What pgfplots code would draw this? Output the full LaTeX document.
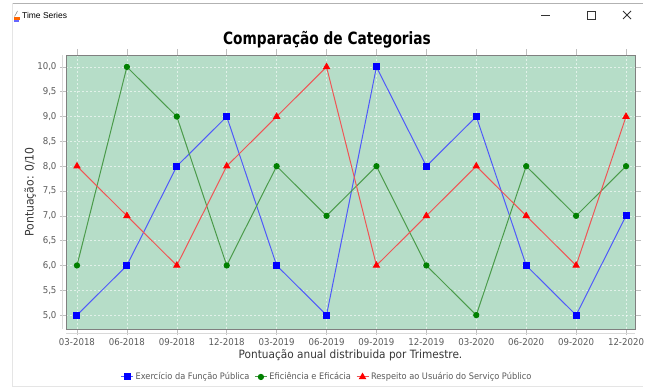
\documentclass[border=0pt]{standalone}
\usepackage{fontspec}
\setmainfont{DejaVu Sans}[FakeStretch=0.92]
\newfontfamily\titlefont[FakeStretch=0.81]{DejaVu Sans}
\newfontfamily\winfont{Liberation Sans}
\usepackage{pgfplots}
\pgfplotsset{compat=1.18}
\definecolor{bggreen}{RGB}{182,221,200}
\definecolor{sblue}{RGB}{0,0,255}
\definecolor{sgreen}{RGB}{0,128,0}
\definecolor{sred}{RGB}{255,0,0}
\definecolor{lblue}{RGB}{80,90,250}
\definecolor{lgreen}{RGB}{75,155,75}
\definecolor{lred}{RGB}{240,85,85}
\definecolor{ticktext}{RGB}{90,90,90}
\definecolor{labeltext}{RGB}{55,55,55}
\begin{document}
\begin{tikzpicture}[x=1bp,y=1bp]
\path (0,0) rectangle (663,390);
% window frame
\draw[gray!60, line width=0.8bp] (12,387) -- (643,387);
\draw[gray!20, line width=0.8bp] (12,387) -- (12,4) -- (643,4);
% window title bar
\fill[orange!80!red] (13.5,370) rectangle (19.5,373);
\fill[blue!60] (14,368) rectangle (19,369.5);
\draw[gray, line width=0.5bp] (14.5,373.5) .. controls (15.5,377) and (17,376) .. (17.5,379);
\node[anchor=west, inner sep=0pt, font=\winfont\fontsize{8.5}{9}\selectfont] at (22,375) {Time Series};
\draw[black!80, line width=0.7bp] (541,375) -- (550,375);
\draw[black!80, line width=0.8bp] (587,371) rectangle (595,379);
\draw[black!80, line width=0.8bp] (623,371) -- (631,379) (623,379) -- (631,371);
% chart title
\node[font=\titlefont\bfseries\fontsize{17}{18}\selectfont] at (327,350.5) {Comparação de Categorias};
\begin{axis}[
  at={(66bp,61bp)}, anchor=south west,
  scale only axis, width=569bp, height=274bp,
  xmin=-0.22, xmax=11.18, ymin=4.72, ymax=10.24,
  xtick={0,...,11},
  xticklabels={03-2018,06-2018,09-2018,12-2018,03-2019,06-2019,09-2019,12-2019,03-2020,06-2020,09-2020,12-2020},
  ytick={5,5.5,...,10},
  yticklabel style={/pgf/number format/.cd, fixed, fixed zerofill, precision=1, use comma},
  /pgf/number format/assume math mode=true,
  tick label style={font=\fontsize{9.4}{10}\selectfont, text=ticktext},
  grid=major,
  major grid style={white, dash pattern=on 2bp off 2bp, line width=0.5bp, opacity=0.6},
  axis background/.style={fill=bggreen},
  axis line style={draw=gray, line width=1bp},
  tick align=outside, major tick length=6bp,
  tick style={gray!50, line width=0.6bp},
  xlabel={Pontuação anual distribuida por Trimestre.},
  ylabel={Pontuação: 0/10},
  xlabel style={font=\fontsize{11.5}{12}\selectfont, text=labeltext, at={(0.5,-0.095)}, anchor=center},
  ylabel style={font=\fontsize{11.8}{12}\selectfont, text=labeltext, at={(-0.063,0.5)}, anchor=center},
  legend style={at={(0.4587,-0.175)}, anchor=center, draw=none, fill=none,
    legend columns=3, font=\fontsize{9}{10}\selectfont, text=ticktext,
    /tikz/every even column/.append style={column sep=3bp}, inner sep=0pt},
  legend image code/.code={\draw[mark repeat=2,mark phase=2] plot coordinates {(0bp,0bp) (6bp,0bp) (12bp,0bp)};},
  legend cell align=left,
  after end axis/.code={
    \draw[gray!30, line width=1bp] ([xshift=-4bp]rel axis cs:0,0) -- ([xshift=-4bp]rel axis cs:0,1);
    \draw[gray!30, line width=1bp] ([yshift=-4bp]rel axis cs:0,0) -- ([yshift=-4bp]rel axis cs:1,0);
  },
]
\addplot[lblue, line width=1bp, mark=square*, mark size=3bp, mark options={draw=sblue, fill=sblue, solid}]
  coordinates {(0,5) (1,6) (2,8) (3,9) (4,6) (5,5) (6,10) (7,8) (8,9) (9,6) (10,5) (11,7)};
\addlegendentry{Exercício da Função Pública}
\addplot[lgreen, line width=1bp, mark=*, mark size=2.6bp, mark options={draw=sgreen, fill=sgreen, solid}]
  coordinates {(0,6) (1,10) (2,9) (3,6) (4,8) (5,7) (6,8) (7,6) (8,5) (9,8) (10,7) (11,8)};
\addlegendentry{Eficiência e Eficácia}
\addplot[lred, line width=1bp, mark=triangle*, mark size=3.4bp, mark options={draw=sred, fill=sred, solid}]
  coordinates {(0,8) (1,7) (2,6) (3,8) (4,9) (5,10) (6,6) (7,7) (8,8) (9,7) (10,6) (11,9)};
\addlegendentry{Respeito ao Usuário do Serviço Público}
\end{axis}
\end{tikzpicture}
\end{document}
